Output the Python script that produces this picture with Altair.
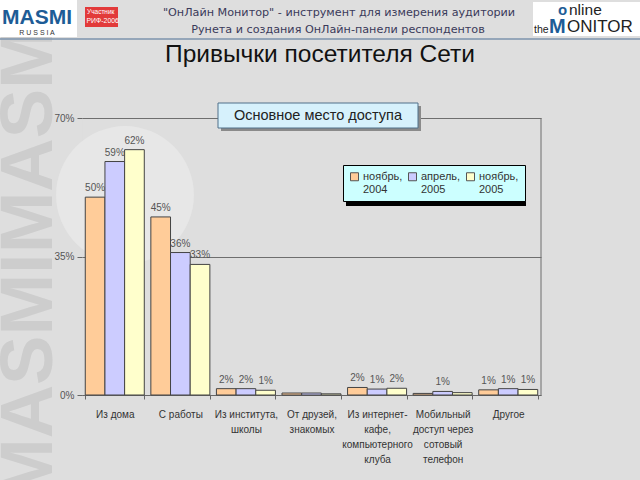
import altair as alt
import pandas as pd

# ---------------- data ----------------
categories = ["Из дома", "С работы", "Из института,\nшколы", "От друзей,\nзнакомых",
              "Из интернет-\nкафе,\nкомпьютерного\nклуба",
              "Мобильный\nдоступ через\nсотовый\nтелефон", "Другое"]
series = ["ноябрь, 2004", "апрель, 2005", "ноябрь, 2005"]
nov2004 = [50, 45, 1.6, 0.5, 1.9, 0.4, 1.3]
apr2005 = [59, 36, 1.6, 0.5, 1.5, 0.9, 1.6]
nov2005 = [62, 33, 1.2, 0.3, 1.7, 0.6, 1.4]
lab_nov2004 = ["50%", "45%", "2%", "", "2%", "", "1%"]
lab_apr2005 = ["59%", "36%", "2%", "", "1%", "1%", "1%"]
lab_nov2005 = ["62%", "33%", "1%", "", "2%", "", "1%"]
colors = ["#FFCC99", "#CCCCFF", "#FFFFCC"]
y_ticks = [0, 35, 70]

rows = []
for s, vals, labs in zip(series, [nov2004, apr2005, nov2005], [lab_nov2004, lab_apr2005, lab_nov2005]):
    for c, v, l in zip(categories, vals, labs):
        rows.append({"cat": c, "series": s, "value": v, "label": l})
df = pd.DataFrame(rows)

# ---------------- layout ----------------
W, H = 640, 480
X0, Y0 = 82, 118          # plot origin on the page
PW, PH = 459, 277         # plot size
FONT = "Liberation Sans"

def px(x):
    return x - X0

def py(y):
    return y - Y0

one = alt.Data(values=[{"k": 1}])

def text(t, x, y, size, color="#222", weight="normal", align="center",
         baseline="middle", angle=0, font=FONT):
    return alt.Chart(one).mark_text(
        fontSize=size, color=color, fontWeight=weight, align=align,
        baseline=baseline, angle=angle, font=font
    ).encode(x=alt.value(px(x)), y=alt.value(py(y)), text=alt.value(t))

def rect(x1, y1, x2, y2, fill, stroke=None, sw=1, opacity=1):
    kw = dict(fill=fill, opacity=opacity)
    if stroke:
        kw.update(stroke=stroke, strokeWidth=sw)
    return alt.Chart(one).mark_rect(**kw).encode(
        x=alt.value(px(x1)), x2=alt.value(px(x2)),
        y=alt.value(py(y1)), y2=alt.value(py(y2)))

def rule(x1, y1, x2, y2, color, sw=1):
    return alt.Chart(one).mark_rule(color=color, strokeWidth=sw).encode(
        x=alt.value(px(x1)), x2=alt.value(px(x2)),
        y=alt.value(py(y1)), y2=alt.value(py(y2)))

# ---------------- decorations ----------------
deco = [
    alt.Chart(one).mark_point(shape="circle", filled=True, color="#e7e7e7", opacity=1, size=19000)
       .encode(x=alt.value(px(125)), y=alt.value(py(195))),
    text("MASMIMASMI", 30, 500, 74, color="#cdcdcd", weight="bold", align="left", angle=270),
    # header
    rect(0, 0, 77, 37, "#ffffff"),
    text("MASMI", 37, 18, 21, color="#1d5c96", weight="bold"),
    text("R    U    S    S    I    A", 37, 33, 7, color="#333"),
    rect(85, 7, 118, 27, "#e23a3a"),
    text("Участник", 87, 12, 6.5, color="#ffffff", align="left"),
    text("РИФ-2006", 86.5, 21, 6.9, color="#ffffff", align="left"),
    text("\"ОнЛайн Монитор\" - инструмент для измерения аудитории", 339, 13, 11.2,
         color="#3a3a5a", font="DejaVu Sans"),
    text("Рунета и создания ОнЛайн-панели респондентов", 338, 30, 11.2,
         color="#3a3a5a", font="DejaVu Sans"),
    rect(533, 2, 640, 36, "#ffffff"),
    text("o", 558, 10, 15, color="#1d5c96", weight="bold", align="left"),
    text("nline", 569, 10, 15.5, color="#222", align="left"),
    text("the", 534, 30, 10.5, color="#222", align="left"),
    text("M", 549, 27, 20, color="#1d5c96", weight="bold", align="left"),
    text("ONITOR", 567, 27, 17, color="#222", align="left"),
    rule(0, 39, 640, 39, "#7d93ad", 1.5),
    # title
    text("Привычки посетителя Сети", 320, 55, 24.5, color="#111"),
]

# ---------------- chart ----------------
xenc = alt.X("cat:N", sort=categories,
             scale=alt.Scale(paddingInner=0.1, paddingOuter=0.05),
             axis=alt.Axis(title=None, labelAngle=0, labelFontSize=10, labelColor="#333",
                           labelFont=FONT, labelBaseline="top", labelLineHeight=15,
                           labelPadding=10, tickBand="extent", tickSize=4, tickColor="#666",
                           domainColor="#666", labelExpr="split(datum.label, '\\n')"))
yscale = alt.Scale(domain=[0, 70], nice=False)

bars = alt.Chart(df).mark_bar(stroke="#444", strokeWidth=1).encode(
    x=xenc,
    xOffset=alt.XOffset("series:N", sort=series),
    y=alt.Y("value:Q", scale=yscale,
            axis=alt.Axis(title=None, values=y_ticks, labelExpr="datum.value + '%'",
                          labelFontSize=10, labelColor="#555", labelFont=FONT,
                          domain=False, tickSize=5, tickColor="#666", labelPadding=3,
                          grid=True, gridColor="#6e6e6e", gridWidth=1)),
    color=alt.Color("series:N", sort=series,
                    scale=alt.Scale(domain=series, range=colors),
                    legend=alt.Legend(orient="none", legendX=261, legendY=47,
                                      direction="horizontal", columns=3, title=None,
                                      symbolType="square", symbolSize=64,
                                      symbolStrokeColor="#555", symbolStrokeWidth=1,
                                      labelFontSize=11, labelFont=FONT, labelColor="#333",
                                      labelExpr="split(datum.label, ' ')",
                                      fillColor="#ccffff", strokeColor="#000",
                                      padding=6, columnPadding=3, labelOffset=3)),
)

labels = alt.Chart(df).mark_text(baseline="bottom", dy=-4, fontSize=10, color="#555",
                                 font=FONT).encode(
    x=alt.X("cat:N", sort=categories),
    xOffset=alt.XOffset("series:N", sort=series),
    y=alt.Y("value:Q", scale=yscale),
    text="label:N",
)

frame = rule(541, 118, 541, 395, "#6e6e6e")

box = [
    rect(221, 106, 421, 131, "#8a8a8a"),
    rect(218, 103, 418, 128, "#d6f1fc", stroke="#50708a"),
    text("Основное место доступа", 318, 116, 14.5, color="#222"),
]

legend_shadow = rect(346, 168, 526, 206, "#000000")

chart = alt.layer(*deco, frame, legend_shadow, bars, labels, *box).properties(
    width=PW, height=PH,
    autosize=alt.AutoSizeParams(type="none"),
    padding={"left": X0, "top": Y0, "right": W - X0 - PW, "bottom": H - Y0 - PH},
    background="#dedede",
).configure_view(strokeWidth=0).configure(font=FONT)

chart.save("out.html", embed_options={"renderer": "svg", "actions": False})
